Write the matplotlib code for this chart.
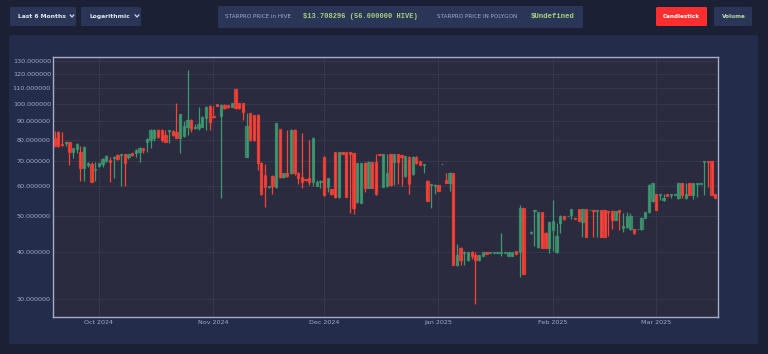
import numpy as np
import pandas as pd
import matplotlib
matplotlib.use('Agg')
import matplotlib.pyplot as plt
import matplotlib.dates as mdates
from matplotlib.patches import FancyBboxPatch
from matplotlib.lines import Line2D

# daily OHLC, STARPRO price in HIVE terms
dates = pd.date_range('2024-09-19', periods=180, freq='D')
opens = [80.7, 84.1, 77.9, 78.3, 78.7, 74.4, 75.6, 74.1, 67.1, 68.5,
         68.8, 66.4, 68.2, 68.8, 70.2, 70.8, 71.4, 72.8, 72.8, 73.1,
         72.1, 73.6, 73.6, 74.4, 75.9, 78.7, 79.9, 81.0, 85.0, 85.0,
         82.4, 84.4, 84.6, 84.1, 81.0, 82.1, 86.7, 90.4, 85.8, 85.8,
         86.7, 91.3, 98.5, 92.8, 99.5, 92.8, 99.1, 99.1, 98.1, 109.2,
         100.1, 100.1, 72.1, 94.2, 93.2, 93.2, 69.5, 64.4, 59.7, 64.1,
         59.7, 85.3, 63.5, 65.1, 65.1, 85.0, 65.1, 63.5, 62.8, 63.1,
         61.8, 60.3, 61.6, 72.1, 59.9, 59.0, 74.0, 56.1, 74.0, 74.0,
         74.0, 73.6, 54.6, 54.3, 69.2, 59.6, 69.6, 69.9, 73.2, 59.9,
         60.1, 73.1, 69.9, 73.1, 72.8, 64.1, 72.1, 64.7, 72.1, 70.2,
         68.5, 62.2, 60.5, 60.3, 60.5, 68.8, 62.4, 61.4, 65.1, 37.0,
         41.1, 39.9, 38.1, 40.0, 39.3, 38.1, 39.2, 40.0, 39.9, 39.9,
         39.9, 39.9, 39.9, 39.2, 39.2, 40.2, 40.0, 52.4, np.nan, 45.0,
         51.6, 41.4, 51.2, 45.1, 41.1, 45.9, 40.0, 47.8, 50.0, 49.9,
         50.3, 49.4, 52.1, 48.3, 52.1, 51.8, 51.9, 51.5, 51.8, 51.8,
         51.6, 51.6, 48.8, 51.8, 46.4, 46.6, 46.2, 46.2, 46.1, 46.1,
         49.5, 51.2, 54.9, 57.2, 56.9, 55.2, 57.2, 57.1, 57.1, 55.8,
         61.2, 55.8, 61.2, 56.9, 61.0, 61.1, 69.9, 70.2, 70.2, 57.2]
highs = [84.4, 84.4, 83.7, 79.4, 78.7, 76.2, 78.4, 77.2, 77.2, 69.9,
         69.9, 69.9, 69.5, 71.4, 72.8, 71.9, 72.5, 73.1, 73.1, 73.4,
         73.4, 73.9, 75.6, 76.5, 76.2, 80.7, 85.3, 85.3, 85.3, 85.3,
         85.0, 85.2, 85.0, 100.1, 93.9, 89.8, 123.0, 90.8, 88.2, 98.1,
         92.5, 98.5, 99.1, 98.7, 99.5, 99.5, 99.5, 99.3, 100.3, 109.4,
         100.3, 100.5, 94.2, 94.4, 93.4, 93.6, 69.9, 68.9, 60.2, 64.4,
         88.8, 85.5, 65.3, 85.0, 85.3, 85.3, 65.4, 83.2, 62.9, 79.9,
         81.4, 62.3, 62.3, 72.4, 63.3, 59.2, 74.4, 74.2, 74.1, 74.1,
         74.1, 73.9, 69.5, 69.4, 69.6, 70.1, 69.8, 73.1, 73.3, 73.3,
         73.1, 73.2, 73.2, 73.2, 72.9, 72.5, 72.4, 72.2, 72.2, 70.4,
         69.0, 62.4, 60.9, 60.8, 60.6, 69.0, 65.1, 65.4, 65.3, 42.0,
         41.3, 40.2, 40.1, 40.2, 40.0, 39.4, 40.1, 40.1, 40.05, 40.05,
         40.05, 45.0, 40.05, 40.1, 40.1, 40.3, 53.6, 52.6, np.nan, 45.5,
         52.0, 51.4, 51.4, 45.2, 48.3, 55.2, 48.0, 50.3, 50.1, 50.1,
         52.2, 49.5, 52.2, 52.2, 52.2, 52.0, 52.0, 52.0, 51.9, 51.9,
         51.7, 51.8, 51.7, 51.9, 50.8, 51.4, 50.8, 46.3, 46.3, 49.6,
         51.3, 60.8, 61.4, 57.3, 57.3, 57.2, 57.3, 57.3, 57.3, 61.3,
         61.4, 61.2, 61.3, 61.4, 61.3, 61.3, 70.3, 70.3, 70.3, 57.3]
lows = [77.2, 76.7, 77.2, 77.2, 68.5, 71.4, 73.6, 62.1, 62.1, 67.8,
        61.6, 62.1, 67.8, 67.8, 69.6, 61.6, 63.1, 70.6, 60.1, 60.1,
        71.1, 72.5, 72.1, 69.6, 73.9, 74.4, 76.2, 79.4, 80.7, 79.1,
        78.7, 78.6, 82.1, 80.7, 73.6, 81.6, 82.4, 84.1, 85.5, 85.0,
        86.4, 85.0, 85.0, 91.3, 98.7, 56.0, 96.7, 97.5, 97.9, 96.7,
        96.9, 90.6, 71.8, 79.6, 79.6, 66.4, 56.9, 53.0, 59.6, 57.2,
        59.3, 63.1, 63.3, 63.7, 64.7, 64.4, 60.8, 59.6, 62.2, 60.5,
        60.3, 60.1, 59.3, 56.7, 58.1, 57.0, 56.0, 56.0, 73.3, 56.2,
        50.8, 50.7, 54.1, 54.1, 57.9, 59.4, 59.4, 56.9, 72.7, 59.7,
        59.9, 60.3, 60.5, 60.8, 60.3, 63.7, 57.3, 64.5, 69.0, 68.3,
        65.1, 54.9, 52.7, 57.2, 58.2, 68.8, 61.2, 58.3, 36.9, 36.8,
        37.0, 37.1, 38.0, 38.4, 29.1, 38.0, 39.1, 39.6, 39.9, 39.9,
        39.9, 39.2, 39.9, 39.1, 39.1, 39.5, 34.4, 35.0, np.nan, 44.9,
        41.7, 41.0, 41.0, 41.0, 39.8, 40.2, 39.9, 45.0, 48.9, 49.9,
        49.1, 49.1, 48.4, 44.0, 43.9, 51.8, 44.0, 44.0, 43.9, 43.9,
        44.2, 46.2, 48.7, 45.9, 45.2, 46.4, 45.9, 44.9, 46.1, 46.0,
        49.4, 50.8, 54.6, 51.8, 55.2, 55.0, 56.6, 55.8, 57.0, 55.7,
        56.0, 55.5, 56.8, 55.5, 56.4, 61.1, 56.9, 59.9, 56.8, 55.9]
closes = [77.2, 77.2, 77.3, 79.1, 74.4, 75.9, 78.1, 67.1, 76.7, 69.5,
          61.8, 66.8, 69.2, 71.1, 72.4, 69.9, 72.1, 71.1, 73.1, 69.2,
          73.1, 72.8, 75.1, 76.2, 74.9, 80.2, 85.0, 85.0, 81.6, 79.8,
          79.1, 85.0, 82.4, 80.7, 93.6, 87.3, 90.4, 85.5, 86.7, 88.2,
          92.2, 98.1, 89.1, 91.9, 98.7, 99.1, 97.1, 97.7, 100.1, 97.1,
          97.1, 95.1, 87.0, 79.9, 79.9, 69.2, 57.2, 59.9, 60.1, 60.1,
          88.5, 63.5, 65.1, 64.1, 85.0, 65.1, 63.1, 61.6, 62.3, 61.8,
          81.0, 61.8, 62.1, 56.9, 63.1, 57.2, 56.1, 74.0, 73.4, 56.4,
          73.3, 52.7, 69.2, 69.2, 59.6, 69.9, 59.6, 57.2, 72.8, 73.1,
          65.1, 60.5, 73.1, 69.9, 72.1, 72.4, 60.9, 72.1, 69.2, 68.5,
          68.9, 55.0, 60.8, 60.5, 58.3, 69.0, 61.4, 65.1, 37.0, 39.3,
          38.1, 40.0, 40.0, 39.0, 38.1, 39.3, 40.0, 39.7, 40.0, 40.0,
          40.0, 40.0, 40.0, 40.0, 40.0, 39.6, 52.4, 35.1, np.nan, 45.4,
          51.9, 51.2, 41.1, 41.1, 48.1, 48.6, 44.2, 50.1, 49.0, 50.0,
          52.1, 49.2, 48.5, 52.1, 44.0, 51.9, 51.6, 51.9, 44.0, 44.0,
          51.4, 48.8, 51.6, 51.4, 47.1, 50.0, 50.0, 45.0, 46.2, 49.5,
          51.2, 60.5, 61.2, 51.9, 57.2, 56.0, 56.7, 57.2, 57.2, 61.2,
          56.9, 57.2, 56.9, 61.2, 61.2, 61.2, 70.2, 69.6, 56.9, 56.0]

y_ticks = [30, 40, 50, 60, 70, 80, 90, 100, 110, 120, 130]
inc_color = '#3D9970'
dec_color = '#FF4136'

page_bg = '#1c2035'
panel_bg = '#232c4a'
plot_bg = '#2a2b3e'
box_bg = '#2b3558'

W, H = 768, 354
fig = plt.figure(figsize=(W / 100, H / 100), dpi=100)
fig.patch.set_facecolor(page_bg)


def fx(x):
    return x / W


def fy(y):
    return 1 - y / H


def box(x0, y0, x1, y1, color, r=2):
    p = FancyBboxPatch((fx(x0), fy(y1)), fx(x1 - x0), (y1 - y0) / H,
                       boxstyle='round,pad=0,rounding_size=%f' % (r / W),
                       transform=fig.transFigure, facecolor=color,
                       edgecolor='none', zorder=-5)
    fig.patches.append(p)


def chevron(xc, yc):
    fig.lines.append(Line2D([fx(xc - 1.8), fx(xc), fx(xc + 1.8)],
                            [fy(yc - 1), fy(yc + 1), fy(yc - 1)],
                            transform=fig.transFigure, color='#d0d6ea', lw=0.9))


# top controls
box(10, 7, 76, 26, box_bg)
fig.text(fx(18), fy(16.5), 'Last 6 Months', color='#e6e9f2', fontsize=4.3,
         fontweight='bold', va='center', ha='left')
chevron(72, 16)
box(81, 7, 141, 26, box_bg)
fig.text(fx(90), fy(16.5), 'Logarithmic', color='#e6e9f2', fontsize=4.3,
         fontweight='bold', va='center', ha='left')
chevron(137, 16)

box(218, 6, 583, 28, box_bg)
fig.text(fx(225), fy(16.5), 'STARPRO PRICE in HIVE', color='#a3acc8',
         fontsize=4.1, va='center', ha='left')
fig.text(fx(303), fy(16.3), '$13.708296 (56.000000 HIVE)', color='#a7d37e',
         fontsize=5.0, family='Liberation Mono', fontweight='bold',
         va='center', ha='left')
fig.text(fx(437), fy(16.5), 'STARPRO PRICE IN POLYGON', color='#a3acc8',
         fontsize=4.1, va='center', ha='left')
fig.text(fx(531), fy(16.3), '$Undefined', color='#a7d37e',
         fontsize=5.3, family='Liberation Mono', fontweight='bold',
         va='center', ha='left')

box(656, 7, 707, 26, '#ff2e2e')
fig.text(fx(681.5), fy(16.5), 'Candlestick', color='white', fontsize=4.1,
         fontweight='bold', va='center', ha='center')
box(714, 7, 752, 26, box_bg)
fig.text(fx(733.5), fy(16.5), 'Volume', color='#b9dca0', fontsize=4.1,
         fontweight='bold', va='center', ha='center')

# chart panel
box(9, 35, 758, 344, panel_bg, r=3)

ax = fig.add_axes([fx(53), fy(317), fx(717.5 - 53), (317 - 57) / H])
ax.set_facecolor(plot_bg)

o = np.array(opens)
h = np.array(highs)
l = np.array(lows)
c = np.array(closes)
up = c >= o
x = mdates.date2num(dates)
cols = np.where(up, inc_color, dec_color)

ax.vlines(x, l, h, colors=cols, lw=0.9, zorder=3)
body_lo = np.minimum(o, c)
body_h = np.abs(c - o)
for is_up, col in [(True, inc_color), (False, dec_color)]:
    m = (up == is_up) & ~np.isnan(o)
    ax.bar(x[m], body_h[m], bottom=body_lo[m], width=0.62,
           color=col, alpha=0.75, edgecolor=col, linewidth=0.9, zorder=4)

ax.set_yscale('log')
ax.set_ylim(26.85, 133.2)
ax.set_xlim(x[0] - 0.45, x[-1] + 0.6)
ax.yaxis.set_major_locator(matplotlib.ticker.FixedLocator(y_ticks))
ax.yaxis.set_minor_locator(matplotlib.ticker.NullLocator())
ax.set_yticklabels(['%.6f' % v for v in y_ticks])
ax.xaxis.set_major_locator(mdates.MonthLocator())
ax.xaxis.set_major_formatter(mdates.DateFormatter('%b %Y'))
ax.tick_params(axis='both', length=0, labelsize=4.6, colors='#a4abc6')
ax.tick_params(axis='y', pad=1.5)
ax.tick_params(axis='x', pad=2.5)
ax.grid(True, color='#35384f', lw=0.7)
ax.set_axisbelow(True)
for s in ax.spines.values():
    s.set_color('#a6abc9')
    s.set_linewidth(1.0)

fig.savefig('out.png', dpi=100, facecolor=page_bg)
